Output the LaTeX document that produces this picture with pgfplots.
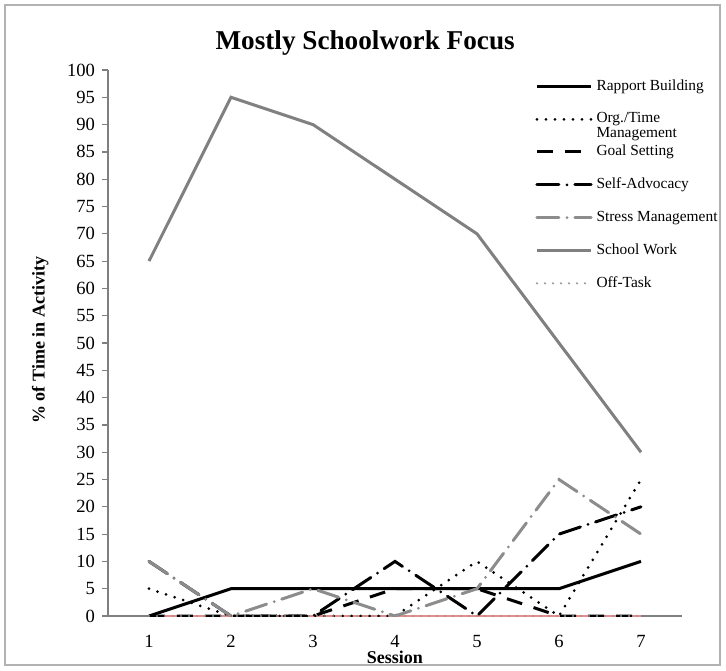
\documentclass[border=0pt]{standalone}
\usepackage{fontspec}
\setmainfont{Liberation Serif}
\usepackage{pgfplots}
\pgfplotsset{compat=1.18}
\definecolor{swgray}{RGB}{128,128,128}
\definecolor{smgray}{RGB}{140,140,140}
\definecolor{otgray}{RGB}{150,150,150}
\definecolor{pinkline}{RGB}{232,140,140}
\begin{document}
\begin{tikzpicture}
\useasboundingbox (-54pt,-27pt) rectangle (309pt,308pt);
\draw[gray!60, line width=0.8pt] (-51.5pt,-24.5pt) rectangle (306pt,305.5pt);
\begin{axis}[
  at={(0,0)}, anchor=south west,
  scale only axis, width=287pt, height=273pt,
  xmin=0.5, xmax=7.5, ymin=0, ymax=100,
  axis x line=bottom, axis y line=left,
  axis line style={-, gray, line width=0.6pt},
  xtick={1,...,7}, ytick={0,5,...,100},
  x tick style={draw=none},
  y tick style={gray, line width=0.6pt},
  tick align=outside, major tick length=3pt,
  /pgf/number format/assume math mode=true,
  tick label style={font=\fontsize{9.3}{11}\selectfont},
  xticklabel style={yshift=-3pt},
  title={\textbf{Mostly Schoolwork Focus}},
  title style={font=\fontsize{13.6}{16}\selectfont, at={(rel axis cs:0.448,1.028)}, anchor=center},
  xlabel={\textbf{Session}},
  xlabel style={font=\fontsize{9}{11}\selectfont, at={(axis description cs:0.5,-0.075)}, anchor=center},
  ylabel={\textbf{\% of Time in Activity}},
  ylabel style={font=\fontsize{9}{11}\selectfont, at={(axis description cs:-0.118,0.505)}, anchor=center},
  legend style={draw=none, fill=none, at={(rel axis cs:0.744,0.99)}, anchor=north west,
    font=\fontsize{7.7}{8}\selectfont, row sep=5.6pt, inner sep=0pt},
  legend cell align=left,
  legend image code/.code={\draw[#1] (0cm,0cm) -- (0.95cm,0cm);},
]
\addplot[pinkline, line width=0.8pt, forget plot] coordinates {(1,0) (2,0) (3,0) (4,0) (5,0) (6,0) (7,0)};
\addplot[black, line width=1.5pt] coordinates {(1,0) (2,5) (3,5) (4,5) (5,5) (6,5) (7,10)};
\addlegendentry{Rapport Building}
\addplot[black, line width=1.5pt, line cap=round, dash pattern=on 0pt off 4.5pt] coordinates {(1,5) (2,0) (3,0) (4,0) (5,10) (6,0) (7,25)};
\addlegendentry{\smash{\makebox[0pt][l]{\raisebox{-0.95em}{Management}}}Org./Time}
\addplot[black, line width=1.5pt, dash pattern=on 8pt off 6pt] coordinates {(1,0) (2,0) (3,0) (4,5) (5,5) (6,0) (7,0)};
\addlegendentry{Goal Setting}
\addplot[black, line width=1.5pt, line cap=round, dash pattern=on 11pt off 4pt on 0pt off 4pt] coordinates {(1,10) (2,0) (3,0) (4,10) (5,0) (6,15) (7,20)};
\addlegendentry{Self-Advocacy}
\addplot[smgray, line width=1.5pt, line cap=round, dash pattern=on 11pt off 4pt on 0pt off 4pt] coordinates {(1,10) (2,0) (3,5) (4,0) (5,5) (6,25) (7,15)};
\addlegendentry{Stress Management}
\addplot[swgray, line width=1.5pt] coordinates {(1,65) (2,95) (3,90) (4,80) (5,70) (6,50) (7,30)};
\addlegendentry{School Work}
\addplot[otgray, line width=1.2pt, line cap=round, dash pattern=on 0pt off 4pt] coordinates {(1,0) (2,0) (3,0) (4,0) (5,0) (6,0) (7,0)};
\addlegendentry{Off-Task}
\end{axis}
\end{tikzpicture}
\end{document}
